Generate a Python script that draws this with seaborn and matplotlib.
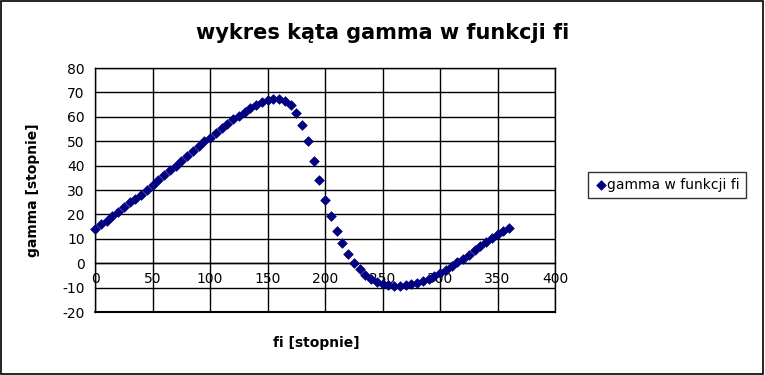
import matplotlib
matplotlib.use('Agg')
import matplotlib.pyplot as plt
import pandas as pd
import seaborn as sns
from matplotlib.patches import Rectangle

# data
fi = list(range(0, 365, 5))
gamma = [14, 16, 17.5, 19.5, 21, 23, 25, 26.5, 28, 30,
         32, 34, 36, 38, 40, 42, 44, 46, 48, 50,
         51.5, 53.5, 55.5, 57, 59, 60.5, 62, 63.5, 65, 66,
         67, 67.5, 67.5, 66.5, 65, 61.5, 56.5, 50, 42, 34,
         26, 19.3, 13, 8.1, 3.9, 0.1, -2.5, -4.8, -6.5, -7.7,
         -8.6, -9.1, -9.4, -9.3, -9, -8.6, -8, -7.3, -6.5, -5.3,
         -4, -2.7, -1.2, 0.3, 1.8, 3.5, 5.3, 7, 8.7, 10.3,
         11.8, 13.2, 14.6]
x_ticks = [0, 50, 100, 150, 200, 250, 300, 350, 400]
y_ticks = [-20, -10, 0, 10, 20, 30, 40, 50, 60, 70, 80]

df = pd.DataFrame({'fi': fi, 'gamma': gamma})

sns.set_style('white')
plt.rcParams['font.family'] = ['DejaVu Sans']
plt.rcParams['axes.unicode_minus'] = False
plt.rcParams['text.color'] = 'black'

fig = plt.figure(figsize=(7.65, 3.75), dpi=100)
W, H = 765, 375
ax = fig.add_axes([95 / W, 1 - 312 / H, 460 / W, 244 / H])

sns.scatterplot(data=df, x='fi', y='gamma', ax=ax, marker='D', color='#000080',
                s=24, edgecolor='#000080', linewidth=0.5,
                label='gamma w funkcji fi', zorder=3, clip_on=False)

ax.set_xlim(0, 400)
ax.set_ylim(-20, 80)
ax.set_xticks(x_ticks)
ax.set_yticks(y_ticks)
ax.grid(True, color='black', linewidth=1)
ax.set_axisbelow(True)
ax.axhline(-20, color='black', linewidth=1.5, clip_on=False, zorder=1)

for s in ax.spines.values():
    s.set_color('black')
    s.set_linewidth(1)
ax.spines['bottom'].set_position(('data', 0))
ax.tick_params(axis='both', colors='black', labelcolor='black', labelsize=10,
               length=4, width=1, direction='out')
ax.tick_params(axis='x', direction='inout', length=6, pad=3)

# title and axis labels placed like the original
fig.text(383 / W, 1 - 33 / H, 'wykres kąta gamma w funkcji fi', ha='center',
         va='center', fontsize=15, fontweight='bold', color='black')
fig.text(33 / W, 1 - 190 / H, 'gamma [stopnie]', ha='center', va='center',
         rotation=90, fontsize=10, fontweight='bold', color='black')
fig.text(316 / W, 1 - 343 / H, 'fi [stopnie]', ha='center', va='center',
         fontsize=10, fontweight='bold', color='black')
ax.set_xlabel('')
ax.set_ylabel('')

leg = ax.legend(loc='center left', bbox_to_anchor=(588 / W, 1 - 185 / H),
                bbox_transform=fig.transFigure, frameon=True, fancybox=False,
                fontsize=10, handletextpad=0.0, borderpad=0.4,
                handlelength=1.0, borderaxespad=0)
leg.get_frame().set_edgecolor('black')
leg.get_frame().set_linewidth(1)
for t in leg.get_texts():
    t.set_color('black')

# outer border of the chart
fig.patches.append(Rectangle((0.001, 0.002), 0.997, 0.996, transform=fig.transFigure,
                             fill=False, edgecolor='black', linewidth=1.2))

fig.savefig('out.png', dpi=100)
